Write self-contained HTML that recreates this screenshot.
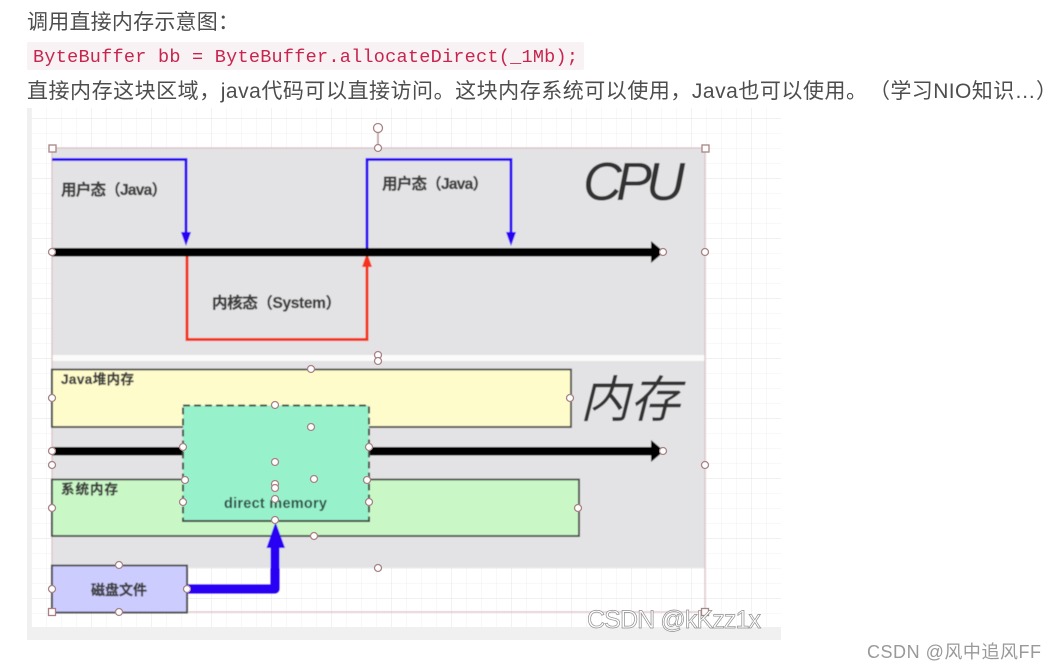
<!DOCTYPE html>
<html>
<head>
<meta charset="utf-8">
<style>
html,body{margin:0;padding:0;background:#fff;width:1055px;height:670px;overflow:hidden}
svg{display:block}
text{font-family:"Liberation Sans","Noto Sans CJK SC",sans-serif}
.h{fill:#fff;stroke:#a98486;stroke-width:1.3}
.s{fill:#fff;stroke:#a98486;stroke-width:1.3}
.lbl{font-size:15.500px;font-weight:bold;fill:#3d3d3d;stroke:#3d3d3d;stroke-width:.3}
.sm{font-size:13.500px;font-weight:bold;fill:#3d3d3d;stroke:#3d3d3d;stroke-width:.3}
</style>
</head>
<body>
<svg width="1055" height="670" viewBox="0 0 1055 670" xmlns="http://www.w3.org/2000/svg">
<defs>
<pattern id="minor" width="15" height="15" patternUnits="userSpaceOnUse" x="31" y="118">
<path d="M0 0H15M0 0V15" fill="none" stroke="#f1f1f1" stroke-width="1"/>
</pattern>
<pattern id="major" width="60" height="60" patternUnits="userSpaceOnUse" x="31" y="118">
<path d="M0 0H60M0 0V60" fill="none" stroke="#e8e8e8" stroke-width="1.2"/>
</pattern>
<filter id="b" x="-5%" y="-5%" width="110%" height="110%"><feGaussianBlur stdDeviation="0.45"/></filter>
</defs>

<text x="27" y="29" font-size="21" fill="#4d4d4d" textLength="212">调用直接内存示意图：</text>
<rect x="27" y="42" width="557" height="28" rx="2" fill="#f9f2f4"/>
<text x="33" y="62" font-size="18.500" style="font-family:'Liberation Mono',monospace" fill="#c7254e" textLength="545">ByteBuffer bb = ByteBuffer.allocateDirect(_1Mb);</text>
<text x="27" y="98" font-size="21" fill="#4d4d4d" textLength="840">直接内存这块区域，java代码可以直接访问。这块内存系统可以使用，Java也可以使用。</text>
<text x="869" y="98" font-size="21" fill="#4d4d4d" textLength="188">（学习NIO知识…）</text>

<rect x="27" y="108" width="754" height="532" fill="#f0f0f0"/>
<rect x="31" y="108" width="750" height="519" fill="#fff"/>
<rect x="31" y="108" width="750" height="519" fill="url(#minor)"/>
<rect x="31" y="108" width="750" height="519" fill="url(#major)"/>

<g filter="url(#b)">
<rect x="52" y="148" width="653" height="420" fill="#e3e2e4"/>
<rect x="52" y="355" width="653" height="6" fill="#fbfbfb"/>
<rect x="52" y="148" width="653" height="464" fill="none" stroke="#d9bfc1" stroke-width="1.2"/>

<path d="M52 159.500H186V234" fill="none" stroke="#2a00f5" stroke-width="2.800"/>
<path d="M181 232H191L186 246Z" fill="#2a00f5"/>
<path d="M367 248V159.500H511V234" fill="none" stroke="#2a00f5" stroke-width="2.800"/>
<path d="M506 232H516L511 246Z" fill="#2a00f5"/>

<path d="M187 254V339.500H367V265" fill="none" stroke="#f5301a" stroke-width="3"/>
<path d="M362 267H372L367 253Z" fill="#f5301a"/>

<rect x="52" y="248" width="602" height="8.500" fill="#000"/>
<path d="M651 241L664 252L651 263Z" fill="#000"/>

<text x="61" y="195" class="lbl" textLength="106">用户态（Java）</text>
<text x="382" y="189" class="lbl" textLength="106">用户态（Java）</text>
<text x="212" y="308" class="lbl" textLength="129">内核态（System）</text>
<text x="583" y="200" font-size="54" font-style="italic" fill="#333" textLength="102">CPU</text>
<text x="580" y="417" font-size="50" font-style="italic" fill="#333" textLength="100">内存</text>

<rect x="52" y="369.500" width="519" height="57.500" fill="#fefccb" stroke="#444" stroke-width="1.800"/>
<text x="61" y="384" class="sm" textLength="73">Java堆内存</text>

<rect x="52" y="447" width="602" height="8.500" fill="#000"/>
<path d="M651 440L664 451L651 462Z" fill="#000"/>

<rect x="52" y="479.500" width="527" height="56.500" fill="#c9f7c6" stroke="#444" stroke-width="1.800"/>
<text x="61" y="494" class="sm" textLength="57">系统内存</text>

<rect x="183" y="405.500" width="186" height="115.500" fill="#97f2cb" stroke="#444" stroke-width="2" stroke-dasharray="7 4"/>
<path d="M183 521H369" stroke="#444" stroke-width="2"/>
<text x="224" y="508" font-size="14.500" font-weight="bold" fill="#2e4a45" textLength="103">direct memory</text>

<rect x="52" y="565.500" width="135" height="47" fill="#ccccff" stroke="#444" stroke-width="1.800"/>
<text x="91" y="595" font-size="14" font-weight="bold" fill="#3d3d3d" stroke="#3d3d3d" stroke-width=".3" textLength="56">磁盘文件</text>

<path d="M187 589H275V546" fill="none" stroke="#2a00f5" stroke-width="9" stroke-linejoin="round"/>
<path d="M266.500 548H285L275.500 522Z" fill="#2a00f5"/>

<path d="M378 128V148" stroke="#a98486" stroke-width="1.2"/>
</g>

<g>
<rect class="s" x="49" y="145" width="7" height="7"/>
<rect class="s" x="702" y="145" width="7" height="7"/>
<rect class="s" x="48.500" y="608.500" width="7" height="7"/>
<rect class="s" x="701.500" y="608.500" width="7" height="7"/>
<circle class="h" cx="378" cy="128" r="4.500"/>
<circle class="h" cx="378" cy="148" r="3.500"/>
<circle class="h" cx="52" cy="252" r="3.500"/>
<circle class="h" cx="663" cy="252" r="3.500"/>
<circle class="h" cx="705" cy="252" r="3.500"/>
<circle class="h" cx="378" cy="355" r="3.500"/>
<circle class="h" cx="378" cy="361" r="3.500"/>
<circle class="h" cx="311" cy="369" r="3.500"/>
<circle class="h" cx="52" cy="398" r="3.500"/>
<circle class="h" cx="570" cy="398" r="3.500"/>
<circle class="h" cx="275" cy="405" r="3.500"/>
<circle class="h" cx="311" cy="427" r="3.500"/>
<circle class="h" cx="183" cy="447" r="3.500"/>
<circle class="h" cx="369" cy="447" r="3.500"/>
<circle class="h" cx="52" cy="451" r="3.500"/>
<circle class="h" cx="663" cy="451" r="3.500"/>
<circle class="h" cx="52" cy="465" r="3.500"/>
<circle class="h" cx="705" cy="465" r="3.500"/>
<circle class="h" cx="275" cy="462" r="3.500"/>
<circle class="h" cx="185" cy="480" r="3.500"/>
<circle class="h" cx="367" cy="480" r="3.500"/>
<circle class="h" cx="314" cy="479" r="3.500"/>
<circle class="h" cx="275" cy="484" r="3.500"/>
<circle class="h" cx="275" cy="488" r="3.500"/>
<circle class="h" cx="275" cy="499" r="3.500"/>
<circle class="h" cx="183" cy="502" r="3.500"/>
<circle class="h" cx="369" cy="502" r="3.500"/>
<circle class="h" cx="52" cy="508" r="3.500"/>
<circle class="h" cx="578" cy="508" r="3.500"/>
<circle class="h" cx="275" cy="520" r="3.500"/>
<circle class="h" cx="314" cy="536" r="3.500"/>
<circle class="h" cx="378" cy="568" r="3.500"/>
<circle class="h" cx="119" cy="565" r="3.500"/>
<circle class="h" cx="52" cy="589" r="3.500"/>
<circle class="h" cx="187" cy="589" r="3.500"/>
<circle class="h" cx="119" cy="612" r="3.500"/>
</g>

<text x="587" y="628" font-size="25" fill="#fff" stroke="#8f8f8f" stroke-width="0.7" textLength="174">CSDN @kKzz1x</text>
<text x="867" y="658" font-size="18" fill="#999" textLength="174">CSDN @风中追风FF</text>
</svg>
</body>
</html>
